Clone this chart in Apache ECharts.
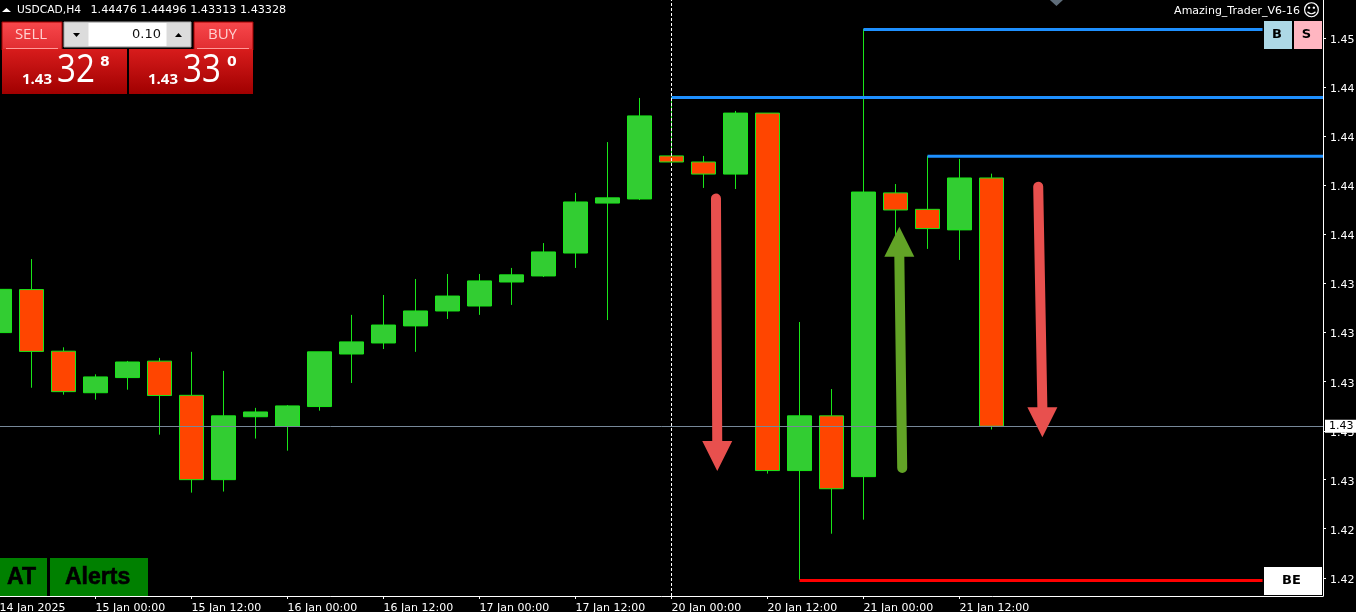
<!DOCTYPE html>
<html><head><meta charset="utf-8">
<style>html,body{margin:0;padding:0;background:#000;overflow:hidden}#c{width:1356px;height:612px}</style>
<script src="https://cdn.jsdelivr.net/npm/echarts@6/dist/echarts.min.js"></script>
</head><body><div id="c"></div>
<script>
// ---- data ----
const opens  = [1.43761,1.43960,1.43675,1.43483,1.43553,1.43629,1.43471,1.43081,1.43372,1.43329,1.43419,1.43662,1.43713,1.43792,1.43861,1.43884,1.43995,1.44023,1.44129,1.44360,1.44379,1.44578,1.44550,1.44494,1.44776,1.43123,1.43376,1.43095,1.44407,1.44331,1.44236,1.44476];
const highs  = [1.43961,1.44101,1.43693,1.43568,1.43630,1.43644,1.43672,1.43584,1.43413,1.43426,1.43672,1.43843,1.43935,1.44009,1.44032,1.44032,1.44060,1.44175,1.44407,1.44642,1.44846,1.44850,1.44578,1.44786,1.44776,1.43810,1.43500,1.45165,1.44448,1.44578,1.44564,1.44496];
const lows   = [1.43761,1.43506,1.43474,1.43451,1.43497,1.43289,1.43021,1.43026,1.43271,1.43215,1.43400,1.43528,1.43685,1.43672,1.43824,1.43843,1.43889,1.44018,1.44060,1.43819,1.44374,1.44541,1.44430,1.44425,1.43109,1.42617,1.42831,1.42896,1.44208,1.44148,1.44097,1.43313];
const closes = [1.43961,1.43674,1.43488,1.43556,1.43625,1.43470,1.43081,1.43376,1.43394,1.43422,1.43672,1.43718,1.43796,1.43861,1.43930,1.44000,1.44028,1.44134,1.44365,1.44384,1.44763,1.44550,1.44494,1.44776,1.43123,1.43376,1.43039,1.44411,1.44328,1.44242,1.44476,1.43328];

const timeTickIndex = [0,3,6,9,12,15,18,21,24,27,30];
const timeLabels = ['14 Jan 2025','15 Jan 00:00','15 Jan 12:00','16 Jan 00:00','16 Jan 12:00','17 Jan 00:00','17 Jan 12:00','20 Jan 00:00','20 Jan 12:00','21 Jan 00:00','21 Jan 12:00'];
const priceTicks = [1.45122,1.44895,1.44668,1.44441,1.44215,1.43988,1.43761,1.43534,1.43307,1.43081,1.42854,1.42627];
const priceLabels = ['1.45','1.44','1.44','1.44','1.44','1.43','1.43','1.43','1.43','1.43','1.42','1.42'];

const resistanceTop = [[27,1.45163],[39.47,1.45163]];
const resistanceMid = [[21,1.44848],[41.36,1.44848]];
const resistanceLow = [[29,1.44576],[41.36,1.44576]];
const supportLine   = [[25,1.42615],[39.47,1.42615]];
const lastPrice = 1.43328;
const separatorIndex = 21;

// arrows: [fromIndex, fromPrice, toIndex, toPrice]
const redArrows   = [[22.39,1.44381,22.43,1.43121],[32.46,1.44436,32.59,1.43277]];
const greenArrows = [[28.21,1.43135,28.12,1.44251]];
const topMarker   = [[33.03,1.45299]];

const headerText = 'USDCAD,H4';
const ohlcText = '1.44476 1.44496 1.43313 1.43328';
const indicatorName = 'Amazing_Trader_V6-16';
const lotSize = '0.10';
const sellQuote = ['1.43','32','8'];
const buyQuote  = ['1.43','33','0'];
// ---------------

const FONT = '"DejaVu Sans"';
const candleData = opens.map((o,i)=>[i,o,closes[i],lows[i],highs[i]]);

function arrowSeries(list,color,z){
  return {type:'custom',coordinateSystem:'cartesian2d',z:z,silent:true,clip:false,
    data:list,
    encode:{x:[0,2],y:[1,3]},
    renderItem(params,api){
      const a=api.coord([api.value(0),api.value(1)]),b=api.coord([api.value(2),api.value(3)]);
      const dy=b[1]-a[1];
      const headLen=30,headW=15;
      const sy=Math.sign(dy);
      const base=[b[0],b[1]-sy*headLen];
      return {type:'group',children:[
        {type:'line',shape:{x1:a[0],y1:a[1],x2:base[0],y2:base[1]},style:{stroke:color,lineWidth:10,lineCap:'round'}},
        {type:'polygon',shape:{points:[[b[0],b[1]],[base[0]-headW,base[1]],[base[0]+headW,base[1]]]},style:{fill:color}}
      ]};
    }};
}
function levelSeries(d,color){
  return {type:'line',data:d,symbol:'none',z:4,silent:true,lineStyle:{color:color,width:3},clip:false};
}

const redGrad=(a,b)=>({type:'linear',x:0,y:0,x2:0,y2:1,colorStops:[{offset:0,color:a},{offset:1,color:b}]});
const T=(text,x,y,font,fill,align,extra)=>({type:'text',z:100,style:Object.assign({text,x,y,font,fill,align:align||'left',verticalAlign:'middle'},extra||{})});
const R=(x,y,w,h,fill,stroke)=>({type:'rect',z:99,shape:{x,y,width:w,height:h},style:{fill,stroke:stroke||null,lineWidth:1}});
const P=(pts,fill)=>({type:'polygon',z:100,shape:{points:pts},style:{fill}});
const Big=(text,x)=>Object.assign(T(text,x,71,'39px "Open Sans"','#fff'),{scaleX:0.85,originX:x,originY:71});

const graphics=[
  P([[2,12],[11,12],[6.5,8]],'#fff'),
  T(headerText,17,10,'10.7px '+FONT,'#fff'),
  T(ohlcText,90.5,10,'11.2px '+FONT,'#fff'),
  T(indicatorName,1300,11,'11px '+FONT,'#fff','right'),
  T('\u263A',1311.5,12,'17px '+FONT,'#fff','center'),
  // trade panel
  R(2,22,60,28,redGrad('#f8484c','#e02c30'),'#a00000'),
  R(194,22,59,28,redGrad('#f8484c','#e02c30'),'#a00000'),
  R(2,49,125,45,redGrad('#d81c1c','#a00000')),
  R(129,49,124,45,redGrad('#d81c1c','#a00000')),
  R(6,48,52,1,'#ff9a9a'),R(197,48,52,1,'#ff9a9a'),
  T('SELL',31,35,'15px "Open Sans"','#ffd0d0','center'),
  T('BUY',222.5,35,'15px "Open Sans"','#ffd0d0','center'),
  R(64,22,127,25,'#dcdcdc','#a8a8a8'),
  R(88.5,23,78,23,'#ffffff'),
  P([[73,33],[80,33],[76.5,37]],'#000'),
  P([[175,37],[182,37],[178.5,33]],'#000'),
  T(lotSize,161,35,'13px '+FONT,'#111','right'),
  T(sellQuote[0],22,79.5,'bold 15px "Open Sans"','#fff'),
  Big(sellQuote[1],57),
  T(sellQuote[2],100,62,'bold 14px '+FONT,'#fff'),
  T(buyQuote[0],148,79.5,'bold 15px "Open Sans"','#fff'),
  Big(buyQuote[1],183),
  T(buyQuote[2],227,62,'bold 14px '+FONT,'#fff'),
  // AT / Alerts
  R(0,558,47,38,'#008000'),R(50,558,98,38,'#008000'),
  T('AT',7,578,'bold 23px "Liberation Sans"','#000','left',{stroke:'#000',lineWidth:0.6}),
  T('Alerts',65,578,'bold 23px "Liberation Sans"','#000','left',{stroke:'#000',lineWidth:0.6}),
  // B / S / BE
  R(1264,21,28,28,'#add8e6'),R(1294,21,28,28,'#ffb6c1'),
  T('B',1277,35,'bold 13px '+FONT,'#000','center'),
  T('S',1306.5,35,'bold 13px '+FONT,'#000','center'),
  R(1264,567,58,28,'#ffffff'),
  T('BE',1291.5,581,'bold 13px '+FONT,'#000','center')
];

const chart=echarts.init(document.getElementById('c'),null,{renderer:'canvas',width:1356,height:612});
chart.setOption({
  animation:false,backgroundColor:'#000',
  grid:{left:-0.5,top:0,width:1323.5,height:596,containLabel:false,outerBoundsMode:'none'},
  xAxis:{type:'value',min:0,max:41.36,
    axisLine:{show:true,onZero:false,lineStyle:{color:'#fff',width:1}},
    axisTick:{show:true,length:3,customValues:timeTickIndex,lineStyle:{color:'#fff'}},
    axisLabel:{show:true,customValues:timeTickIndex,align:'left',margin:7,color:'#fff',fontFamily:'DejaVu Sans',fontSize:11,
      formatter:(v,i)=>timeLabels[timeTickIndex.indexOf(v)]||''},
    splitLine:{show:false}},
  yAxis:{type:'value',position:'right',min:1.42543,max:1.45299,
    axisLine:{show:true,onZero:false,lineStyle:{color:'#fff',width:1}},
    axisTick:{show:true,length:3,customValues:priceTicks,lineStyle:{color:'#fff'}},
    axisLabel:{show:true,customValues:priceTicks,margin:7,color:'#fff',fontFamily:'DejaVu Sans',fontSize:11,
      rich:{p:{color:'#fff',fontFamily:'DejaVu Sans',fontSize:11,padding:[4,0,0,0]}},
      formatter:(v)=>'{p|'+(priceLabels[priceTicks.indexOf(v)]||'')+'}'},
    splitLine:{show:false}},
  tooltip:{show:false},
  series:[
    {type:'line',data:[],z:1,silent:true,
      markLine:{silent:true,symbol:'none',animation:false,precision:5,data:[
        {xAxis:separatorIndex,lineStyle:{color:'#fff',type:[3,2],width:1},label:{show:false}},
        {yAxis:lastPrice,lineStyle:{color:'#778899',type:'solid',width:1},
          label:{show:true,position:'end',distance:2,formatter:'1.43',color:'#000',backgroundColor:'#fff',fontFamily:'DejaVu Sans',fontSize:11,padding:[1,6,1,4]}}
      ]}},
    {type:'candlestick',z:3,silent:true,barWidth:25,clip:true,data:candleData,
      itemStyle:{color:'#32cd32',color0:'#ff4500',borderColor:'#19e619',borderColor0:'#19e619',borderWidth:1}},
    levelSeries(resistanceTop,'#1e90ff'),
    levelSeries(resistanceMid,'#1e90ff'),
    levelSeries(resistanceLow,'#1e90ff'),
    levelSeries(supportLine,'#ff0000'),
    arrowSeries(redArrows,'#e8504e',6),
    arrowSeries(greenArrows,'#62a326',6),
    {type:'scatter',data:topMarker,symbol:'diamond',symbolSize:[13,12],z:6,silent:true,clip:false,itemStyle:{color:'#778899'}}
  ],
  graphic:graphics
});
</script></body></html>
